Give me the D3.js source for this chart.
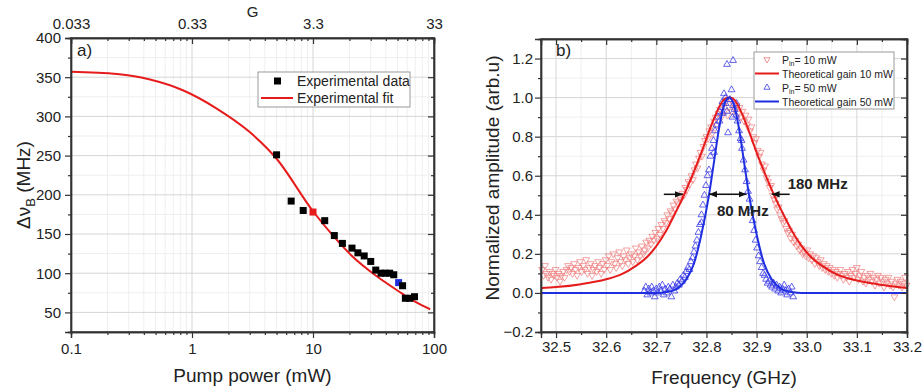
<!DOCTYPE html>
<html><head><meta charset="utf-8">
<script src="https://cdn.jsdelivr.net/npm/d3@7"></script>
<style>body{margin:0;background:#fff} text{font-family:"Liberation Sans",Arial,sans-serif;fill:#222}</style>
</head><body><svg id="c" width="923" height="391"></svg>
<script>
// ---------- Panel a) data ----------
const expPower = [5.0,6.6,8.3,10,12.5,15,17.5,21,23.5,26.5,30,33,36.5,39.5,43,46.5,51,55,58,63,69];
const expWidth = [251,192,180,178,167,148,138,132,126,122,115,104,100,100,100,98,88,84,68,68,70];
const fitPower = [0.1,0.24,0.45,0.85,1.6,3.0,5.0,10,15,21,33,51,69,93];
const fitWidth = [357,354,347,333,310,280,246,179,146,122,97,77,64,54];
const powerTicks = [0.1,1,10,100];
const gainTicks = [0.033,0.33,3.3,33];
const widthTicks = [50,100,150,200,250,300,350,400];
const highlightRed = 10, highlightBlue = 51;

// ---------- Panel b) data ----------
const red10Data = [
[32.472,0.12],[32.475,0.09],[32.478,0.14],[32.481,0.10],[32.484,0.08],[32.487,0.11],[32.490,0.07],[32.493,0.10],[32.496,0.09],[32.499,0.12],
[32.502,0.08],[32.505,0.10],[32.508,0.06],[32.511,0.09],[32.514,0.11],[32.517,0.08],[32.521,0.12],[32.524,0.14],[32.527,0.11],[32.530,0.13],
[32.533,0.10],[32.536,0.15],[32.539,0.12],[32.542,0.09],[32.545,0.13],[32.548,0.16],[32.551,0.11],[32.554,0.14],[32.557,0.12],[32.560,0.17],
[32.563,0.10],[32.566,0.13],[32.569,0.15],[32.572,0.09],[32.575,0.12],[32.578,0.14],[32.581,0.11],[32.584,0.16],[32.587,0.13],[32.590,0.10],
[32.593,0.15],[32.596,0.12],[32.599,0.17],[32.602,0.14],[32.605,0.19],[32.608,0.12],[32.611,0.16],[32.614,0.20],[32.617,0.15],[32.620,0.13],
[32.623,0.18],[32.626,0.21],[32.629,0.16],[32.632,0.14],[32.635,0.19],[32.638,0.17],[32.641,0.22],[32.644,0.15],[32.647,0.18],[32.650,0.20],
[32.653,0.16],[32.656,0.19],[32.659,0.23],[32.662,0.17],[32.665,0.21],[32.668,0.19],[32.671,0.24],[32.674,0.20],[32.677,0.22],[32.680,0.26],
[32.683,0.23],[32.686,0.27],[32.689,0.25],[32.692,0.29],[32.695,0.27],[32.698,0.31],[32.701,0.28],[32.704,0.33],[32.707,0.30],[32.710,0.35],
[32.713,0.33],[32.716,0.37],[32.719,0.36],[32.722,0.40],[32.725,0.38],[32.728,0.42],[32.731,0.41],[32.734,0.45],[32.737,0.43],[32.740,0.47],
[32.743,0.46],[32.746,0.49],[32.749,0.48],[32.752,0.51],[32.755,0.50],[32.758,0.54],[32.761,0.53],[32.764,0.57],[32.767,0.56],[32.770,0.60],
[32.773,0.58],[32.776,0.63],[32.779,0.66],[32.782,0.64],[32.785,0.69],[32.788,0.72],[32.791,0.70],[32.794,0.75],[32.797,0.78],[32.800,0.80],
[32.803,0.79],[32.806,0.83],[32.809,0.85],[32.812,0.82],[32.815,0.88],[32.818,0.90],[32.821,0.86],[32.824,0.92],[32.827,0.94],[32.830,0.90],
[32.833,0.96],[32.836,0.93],[32.839,0.98],[32.842,0.91],[32.845,0.95],[32.848,0.99],[32.851,0.93],[32.854,0.97],[32.857,0.94],[32.860,0.96],
[32.863,0.92],[32.866,0.95],[32.869,0.90],[32.872,0.93],[32.875,0.88],[32.878,0.91],[32.881,0.86],[32.884,0.89],[32.887,0.83],[32.890,0.85],
[32.893,0.80],[32.896,0.77],[32.899,0.79],[32.902,0.73],[32.905,0.70],[32.908,0.72],[32.911,0.66],[32.914,0.63],[32.917,0.65],[32.920,0.59],
[32.923,0.57],[32.926,0.54],[32.929,0.55],[32.932,0.50],[32.935,0.48],[32.938,0.46],[32.941,0.43],[32.944,0.44],[32.947,0.40],[32.950,0.38],
[32.953,0.36],[32.956,0.37],[32.959,0.33],[32.962,0.31],[32.965,0.32],[32.968,0.28],[32.971,0.30],[32.974,0.26],[32.977,0.27],[32.980,0.24],
[32.983,0.25],[32.986,0.22],[32.989,0.23],[32.992,0.20],[32.995,0.21],[32.998,0.19],[33.001,0.22],[33.004,0.18],[33.007,0.20],[33.010,0.17],
[33.013,0.19],[33.016,0.15],[33.019,0.18],[33.022,0.16],[33.025,0.14],[33.028,0.17],[33.031,0.13],[33.034,0.15],[33.037,0.12],[33.040,0.14],
[33.043,0.11],[33.046,0.13],[33.049,0.10],[33.052,0.12],[33.055,0.09],[33.058,0.11],[33.061,0.08],[33.064,0.10],[33.067,0.12],[33.070,0.09],
[33.073,0.07],[33.076,0.10],[33.079,0.08],[33.082,0.11],[33.085,0.06],[33.088,0.09],[33.091,0.12],[33.094,0.08],[33.097,0.10],[33.100,0.13],
[33.103,0.07],[33.106,0.09],[33.109,0.11],[33.112,0.06],[33.115,0.08],[33.118,0.05],[33.121,0.09],[33.124,0.07],[33.127,0.10],[33.130,0.06],
[33.133,0.08],[33.136,0.04],[33.139,0.07],[33.142,0.09],[33.145,0.05],[33.148,0.08],[33.151,0.06],[33.154,0.03],[33.157,0.07],[33.160,0.05],
[33.163,0.08],[33.166,0.04],[33.169,0.06],[33.172,0.03],[33.175,-0.02],[33.178,0.05],[33.181,0.07],[33.184,0.04],[33.187,0.06],[33.190,0.03],
[33.193,0.05],[33.196,0.08],[33.199,0.04]];
const blue50Data = [
[32.676,0.01],[32.679,0.03],[32.682,-0.01],[32.685,0.02],[32.688,0.00],[32.691,0.03],[32.694,0.01],[32.697,-0.02],[32.700,0.02],[32.703,0.00],
[32.706,0.03],[32.709,0.01],[32.712,0.04],[32.715,-0.01],[32.718,0.02],[32.721,0.00],[32.724,0.03],[32.727,0.02],[32.730,-0.02],[32.733,0.04],
[32.736,0.01],[32.739,0.03],[32.742,0.05],[32.745,0.04],[32.748,0.07],[32.751,0.06],[32.754,0.09],[32.757,0.08],[32.760,0.11],[32.763,0.13],
[32.766,0.12],[32.769,0.16],[32.772,0.18],[32.775,0.21],[32.778,0.24],[32.781,0.27],[32.784,0.31],[32.787,0.35],[32.790,0.40],[32.790,0.36],
[32.793,0.45],[32.796,0.50],[32.799,0.55],[32.802,0.60],[32.805,0.63],[32.808,0.70],[32.811,0.74],[32.814,0.78],[32.815,0.72],[32.817,0.83],
[32.820,0.86],[32.823,0.90],[32.826,0.93],[32.826,0.88],[32.829,0.95],[32.832,0.98],[32.833,0.92],[32.835,1.02],[32.838,0.97],[32.838,1.00],
[32.841,0.93],[32.841,1.17],[32.843,0.82],[32.847,0.99],[32.850,1.04],[32.852,0.90],[32.853,1.19],[32.853,0.96],[32.856,0.94],[32.859,0.91],
[32.860,0.97],[32.862,0.88],[32.865,0.83],[32.868,0.79],[32.870,0.78],[32.871,0.74],[32.874,0.68],[32.877,0.63],[32.880,0.57],[32.883,0.52],
[32.886,0.48],[32.889,0.42],[32.892,0.37],[32.895,0.32],[32.898,0.27],[32.901,0.23],[32.904,0.19],[32.907,0.16],[32.910,0.13],[32.913,0.10],
[32.916,0.09],[32.919,0.07],[32.922,0.05],[32.925,0.06],[32.928,0.04],[32.931,0.03],[32.934,0.05],[32.937,0.02],[32.940,0.04],[32.943,0.01],
[32.946,0.03],[32.949,0.00],[32.952,0.02],[32.955,0.04],[32.958,0.01],[32.961,-0.01],[32.964,0.02],[32.967,0.00],[32.970,0.03],[32.973,-0.02]];
const red10Fit = [[32.47,0.025],[32.50,0.03],[32.55,0.045],[32.60,0.07],[32.63,0.095],[32.66,0.14],[32.68,0.18],[32.70,0.24],[32.72,0.32],[32.74,0.42],
[32.755,0.50],[32.77,0.59],[32.79,0.72],[32.81,0.86],[32.825,0.95],[32.835,0.99],[32.845,1.0],[32.855,0.99],[32.865,0.95],[32.88,0.86],
[32.90,0.72],[32.92,0.59],[32.935,0.50],[32.95,0.42],[32.97,0.32],[32.99,0.24],[33.01,0.18],[33.03,0.14],[33.06,0.095],[33.09,0.07],[33.14,0.045],[33.2,0.025]];
const blue50Fit = [[32.47,0],[32.70,0],[32.72,0.005],[32.74,0.02],[32.76,0.07],[32.775,0.15],[32.79,0.30],[32.805,0.50],[32.815,0.67],[32.825,0.84],
[32.835,0.96],[32.845,1.0],[32.855,0.96],[32.865,0.84],[32.875,0.67],[32.885,0.50],[32.90,0.30],[32.915,0.15],[32.93,0.07],[32.95,0.02],[32.97,0.005],[32.99,0],[33.2,0]];
const freqTicks = [32.5,32.6,32.7,32.8,32.9,33.0,33.1,33.2];
const ampTicks = [-0.2,0.0,0.2,0.4,0.6,0.8,1.0,1.2];
// annotations (frequency GHz, amplitude)
const arrow180Left = [[32.715,0.505],[32.753,0.505]];
const arrow180Right = [[32.966,0.505],[32.930,0.505]];
const arrow80 = [[32.805,0.505],[32.880,0.505]];
const label180 = [32.962,0.53];
const label80 = [32.821,0.392];

// ---------- drawing ----------
const svg = d3.select("#c");
const defs = svg.append("defs");
defs.append("marker").attr("id","ah").attr("viewBox","0 0 10 10").attr("refX",10).attr("refY",5)
  .attr("markerWidth",8).attr("markerHeight",8).attr("markerUnits","userSpaceOnUse").attr("orient","auto-start-reverse")
  .append("path").attr("d","M0,1 L10,5 L0,9 Z").attr("fill","#111");

const gridMajor = "#d6d6d6", gridMinor = "#efefef", axisCol = "#333";
const RED = "#e61c1c", BLUE = "#1f2fe0";

function styleAxis(g, fs){
  g.selectAll("path").attr("stroke",axisCol).attr("stroke-width",1.4);
  g.selectAll("line").attr("stroke",axisCol).attr("stroke-width",1.2);
  g.selectAll("text").style("font-size",fs+"px").attr("fill","#222").style("font-family",'"Liberation Sans",Arial,sans-serif');
}

// ===== Panel a =====
const L = {x0:71,x1:434,y0:38,y1:332};
const xL = d3.scaleLog().domain([0.1,100]).range([L.x0,L.x1]);
const gTop = d3.scaleLog().domain([0.033,33]).range([L.x0,L.x1]);
const yL = d3.scaleLinear().domain([25,400]).range([L.y1,L.y0]);

const minorP = [];
[0.1,1,10].forEach(d=>{for(let k=2;k<=9;k++) minorP.push(d*k);});
const minorG = [];
[0.033,0.33,3.3].forEach(d=>{for(let k=2;k<=9;k++) minorG.push(d*k);});
const minorW = d3.range(25,400,50);

const ga = svg.append("g");
ga.selectAll(".vmin").data(minorP).join("line").attr("x1",d=>xL(d)).attr("x2",d=>xL(d)).attr("y1",L.y0).attr("y2",L.y1).attr("stroke",gridMinor);
ga.selectAll(".hmin").data(minorW).join("line").attr("y1",d=>yL(d)).attr("y2",d=>yL(d)).attr("x1",L.x0).attr("x2",L.x1).attr("stroke",gridMinor);
ga.selectAll(".vmaj").data(powerTicks).join("line").attr("x1",d=>xL(d)).attr("x2",d=>xL(d)).attr("y1",L.y0).attr("y2",L.y1).attr("stroke",gridMajor);
ga.selectAll(".hmaj").data(widthTicks).join("line").attr("y1",d=>yL(d)).attr("y2",d=>yL(d)).attr("x1",L.x0).attr("x2",L.x1).attr("stroke",gridMajor);

// fit line
const fitLine = d3.line().x(d=>xL(d[0])).y(d=>yL(d[1])).curve(d3.curveMonotoneX);
ga.append("path").datum(fitPower.map((p,i)=>[p,fitWidth[i]])).attr("d",fitLine).attr("fill","none").attr("stroke",RED).attr("stroke-width",2);
// points
ga.selectAll(".pt").data(expPower.map((p,i)=>[p,expWidth[i]])).join("rect")
  .attr("x",d=>xL(d[0])-3.5).attr("y",d=>yL(d[1])-3.5).attr("width",7).attr("height",7)
  .attr("fill",d=>d[0]===highlightRed?RED:(d[0]===highlightBlue?BLUE:"#000"));

// axes
let ax;
ax = ga.append("g").attr("transform",`translate(0,${L.y1})`).call(d3.axisBottom(xL).tickValues(powerTicks).tickFormat(d3.format("~g")).tickSize(6).tickPadding(5)); styleAxis(ax,15);
ax = ga.append("g").attr("transform",`translate(0,${L.y1})`).call(d3.axisBottom(xL).tickValues(minorP).tickFormat("").tickSize(3)); styleAxis(ax,15);
ax = ga.append("g").attr("transform",`translate(${L.x0},0)`).call(d3.axisLeft(yL).tickValues(widthTicks).tickSize(6).tickPadding(4)); styleAxis(ax,15);
ax = ga.append("g").attr("transform",`translate(${L.x0},0)`).call(d3.axisLeft(yL).tickValues(minorW).tickFormat("").tickSize(3)); styleAxis(ax,15);
ax = ga.append("g").attr("transform",`translate(${L.x1},0)`).call(d3.axisRight(yL).tickValues(widthTicks).tickFormat("").tickSize(-6)); styleAxis(ax,15);
ax = ga.append("g").attr("transform",`translate(${L.x1},0)`).call(d3.axisRight(yL).tickValues(minorW).tickFormat("").tickSize(-3)); styleAxis(ax,15);
ax = ga.append("g").attr("transform",`translate(0,${L.y0})`).call(d3.axisTop(gTop).tickValues(gainTicks).tickFormat(d=>String(d)).tickSize(-6).tickPadding(9)); styleAxis(ax,15);
ax = ga.append("g").attr("transform",`translate(0,${L.y0})`).call(d3.axisTop(gTop).tickValues(minorG).tickFormat("").tickSize(-3)); styleAxis(ax,15);
ga.append("rect").attr("x",L.x0).attr("y",L.y0).attr("width",L.x1-L.x0).attr("height",L.y1-L.y0).attr("fill","none").attr("stroke",axisCol).attr("stroke-width",1.4);

ga.append("text").attr("x",(L.x0+L.x1)/2).attr("y",17).attr("text-anchor","middle").style("font-size","15px").text("G");
ga.append("text").attr("x",(L.x0+L.x1)/2).attr("y",382).attr("text-anchor","middle").style("font-size","19px").text("Pump power (mW)");
const yt = ga.append("text").attr("transform",`translate(30,${(L.y0+L.y1)/2}) rotate(-90)`).attr("text-anchor","middle").style("font-size","19px");
yt.append("tspan").text("Δν");
yt.append("tspan").attr("dy",5).style("font-size","13px").text("B");
yt.append("tspan").attr("dy",-5).text(" (MHz)");
ga.append("text").attr("x",77).attr("y",56).style("font-size","17px").text("a)");

// legend a
const lg = ga.append("g");
lg.append("rect").attr("x",258).attr("y",72).attr("width",152).attr("height",35).attr("fill","#fff").attr("stroke","#9a9a9a").attr("stroke-width",1);
lg.append("rect").attr("x",274).attr("y",77.5).attr("width",7).attr("height",7).attr("fill","#000");
lg.append("text").attr("x",297).attr("y",86).style("font-size","14px").text("Experimental data");
lg.append("line").attr("x1",261).attr("x2",293).attr("y1",98).attr("y2",98).attr("stroke",RED).attr("stroke-width",2);
lg.append("text").attr("x",297).attr("y",103).style("font-size","14px").text("Experimental fit");

// ===== Panel b =====
const R = {x0:541,x1:907,y0:39,y1:332};
const xR = d3.scaleLinear().domain([32.47,33.2]).range([R.x0,R.x1]);
const yR = d3.scaleLinear().domain([-0.2,1.3]).range([R.y1,R.y0]);
const minorF = [32.55,32.65,32.75,32.85,32.95,33.05,33.15];
const minorA = [-0.1,0.1,0.3,0.5,0.7,0.9,1.1];

const gb = svg.append("g");
gb.selectAll(".vmin").data(minorF).join("line").attr("x1",d=>xR(d)).attr("x2",d=>xR(d)).attr("y1",R.y0).attr("y2",R.y1).attr("stroke",gridMinor);
gb.selectAll(".hmin").data(minorA).join("line").attr("y1",d=>yR(d)).attr("y2",d=>yR(d)).attr("x1",R.x0).attr("x2",R.x1).attr("stroke",gridMinor);
gb.selectAll(".vmaj").data(freqTicks).join("line").attr("x1",d=>xR(d)).attr("x2",d=>xR(d)).attr("y1",R.y0).attr("y2",R.y1).attr("stroke",gridMajor);
gb.selectAll(".hmaj").data(ampTicks).join("line").attr("y1",d=>yR(d)).attr("y2",d=>yR(d)).attr("x1",R.x0).attr("x2",R.x1).attr("stroke",gridMajor);

const tri = d3.symbol(d3.symbolTriangle, 20);
const pb = gb.append("g");
pb.selectAll(".r").data(red10Data).join("path").attr("d",tri)
  .attr("transform",d=>`translate(${xR(d[0])},${yR(d[1])}) rotate(180)`)
  .attr("fill","none").attr("stroke","#ef7a7a").attr("stroke-width",0.7);
pb.selectAll(".b").data(blue50Data).join("path").attr("d",tri)
  .attr("transform",d=>`translate(${xR(d[0])},${yR(d[1])})`)
  .attr("fill","none").attr("stroke","#3b3bea").attr("stroke-width",0.8);
const fitR = d3.line().x(d=>xR(d[0])).y(d=>yR(d[1])).curve(d3.curveMonotoneX);
gb.append("path").datum(red10Fit).attr("d",fitR).attr("fill","none").attr("stroke",RED).attr("stroke-width",2);
gb.append("path").datum(blue50Fit).attr("d",fitR).attr("fill","none").attr("stroke",BLUE).attr("stroke-width",2);

ax = gb.append("g").attr("transform",`translate(0,${R.y1})`).call(d3.axisBottom(xR).tickValues(freqTicks).tickFormat(d3.format(".1f")).tickSize(6).tickPadding(3)); styleAxis(ax,15);
ax = gb.append("g").attr("transform",`translate(0,${R.y1})`).call(d3.axisBottom(xR).tickValues(minorF).tickFormat("").tickSize(3)); styleAxis(ax,15);
ax = gb.append("g").attr("transform",`translate(${R.x0},0)`).call(d3.axisLeft(yR).tickValues(ampTicks).tickFormat(d=>d3.format(".1f")(d).replace("-","−")).tickSize(6).tickPadding(2)); styleAxis(ax,15);
ax = gb.append("g").attr("transform",`translate(${R.x0},0)`).call(d3.axisLeft(yR).tickValues(minorA).tickFormat("").tickSize(3)); styleAxis(ax,15);
ax = gb.append("g").attr("transform",`translate(0,${R.y0})`).call(d3.axisTop(xR).tickValues(freqTicks).tickFormat("").tickSize(-6)); styleAxis(ax,15);
ax = gb.append("g").attr("transform",`translate(0,${R.y0})`).call(d3.axisTop(xR).tickValues(minorF).tickFormat("").tickSize(-3)); styleAxis(ax,15);
ax = gb.append("g").attr("transform",`translate(${R.x1},0)`).call(d3.axisRight(yR).tickValues(ampTicks).tickFormat("").tickSize(-6)); styleAxis(ax,15);
ax = gb.append("g").attr("transform",`translate(${R.x1},0)`).call(d3.axisRight(yR).tickValues(minorA).tickFormat("").tickSize(-3)); styleAxis(ax,15);
gb.append("rect").attr("x",R.x0).attr("y",R.y0).attr("width",R.x1-R.x0).attr("height",R.y1-R.y0).attr("fill","none").attr("stroke",axisCol).attr("stroke-width",1.4);

gb.append("text").attr("x",(R.x0+R.x1)/2).attr("y",384).attr("text-anchor","middle").style("font-size","19px").text("Frequency (GHz)");
gb.append("text").attr("transform",`translate(499,178) rotate(-90)`).attr("text-anchor","middle").style("font-size","19px").text("Normalized amplitude (arb.u)");
gb.append("text").attr("x",556).attr("y",56).style("font-size","17px").text("b)");

// annotations
[arrow180Left, arrow180Right].forEach(a=>{
  gb.append("line").attr("x1",xR(a[0][0])).attr("y1",yR(a[0][1])).attr("x2",xR(a[1][0])).attr("y2",yR(a[1][1]))
    .attr("stroke","#111").attr("stroke-width",1.5).attr("marker-end","url(#ah)");
});
gb.append("line").attr("x1",xR(arrow80[0][0])).attr("y1",yR(arrow80[0][1])).attr("x2",xR(arrow80[1][0])).attr("y2",yR(arrow80[1][1]))
  .attr("stroke","#111").attr("stroke-width",1.5).attr("marker-end","url(#ah)").attr("marker-start","url(#ah)");
gb.append("text").attr("x",xR(label180[0])).attr("y",yR(label180[1])).style("font-size","15px").style("font-weight","bold").text("180 MHz");
gb.append("text").attr("x",xR(label80[0])).attr("y",yR(label80[1])).style("font-size","15px").style("font-weight","bold").text("80 MHz");

// legend b
const lb = gb.append("g");
lb.append("rect").attr("x",754).attr("y",52).attr("width",140).attr("height",57).attr("fill","#fff").attr("stroke","#9a9a9a").attr("stroke-width",1);
const rows = [59.5,73.5,87.5,101.5];
lb.append("path").attr("d",d3.symbol(d3.symbolTriangle,16)).attr("transform",`translate(767,${rows[0]}) rotate(180)`).attr("fill","none").attr("stroke","#ef7a7a").attr("stroke-width",0.8);
lb.append("line").attr("x1",755).attr("x2",779).attr("y1",rows[1]).attr("y2",rows[1]).attr("stroke",RED).attr("stroke-width",2);
lb.append("path").attr("d",d3.symbol(d3.symbolTriangle,16)).attr("transform",`translate(767,${rows[2]})`).attr("fill","none").attr("stroke","#3b3bea").attr("stroke-width",0.8);
lb.append("line").attr("x1",755).attr("x2",779).attr("y1",rows[3]).attr("y2",rows[3]).attr("stroke",BLUE).attr("stroke-width",2);
function pinText(y, txt){
  const t = lb.append("text").attr("x",782).attr("y",y+4).style("font-size","10.5px");
  t.append("tspan").text("P");
  t.append("tspan").attr("dy",2).style("font-size","7px").text("in");
  t.append("tspan").attr("dy",-2).text(txt);
}
pinText(rows[0],"= 10 mW");
lb.append("text").attr("x",782).attr("y",rows[1]+4).style("font-size","10.5px").text("Theoretical gain 10 mW");
pinText(rows[2],"= 50 mW");
lb.append("text").attr("x",782).attr("y",rows[3]+4).style("font-size","10.5px").text("Theoretical gain 50 mW");
</script></body></html>
